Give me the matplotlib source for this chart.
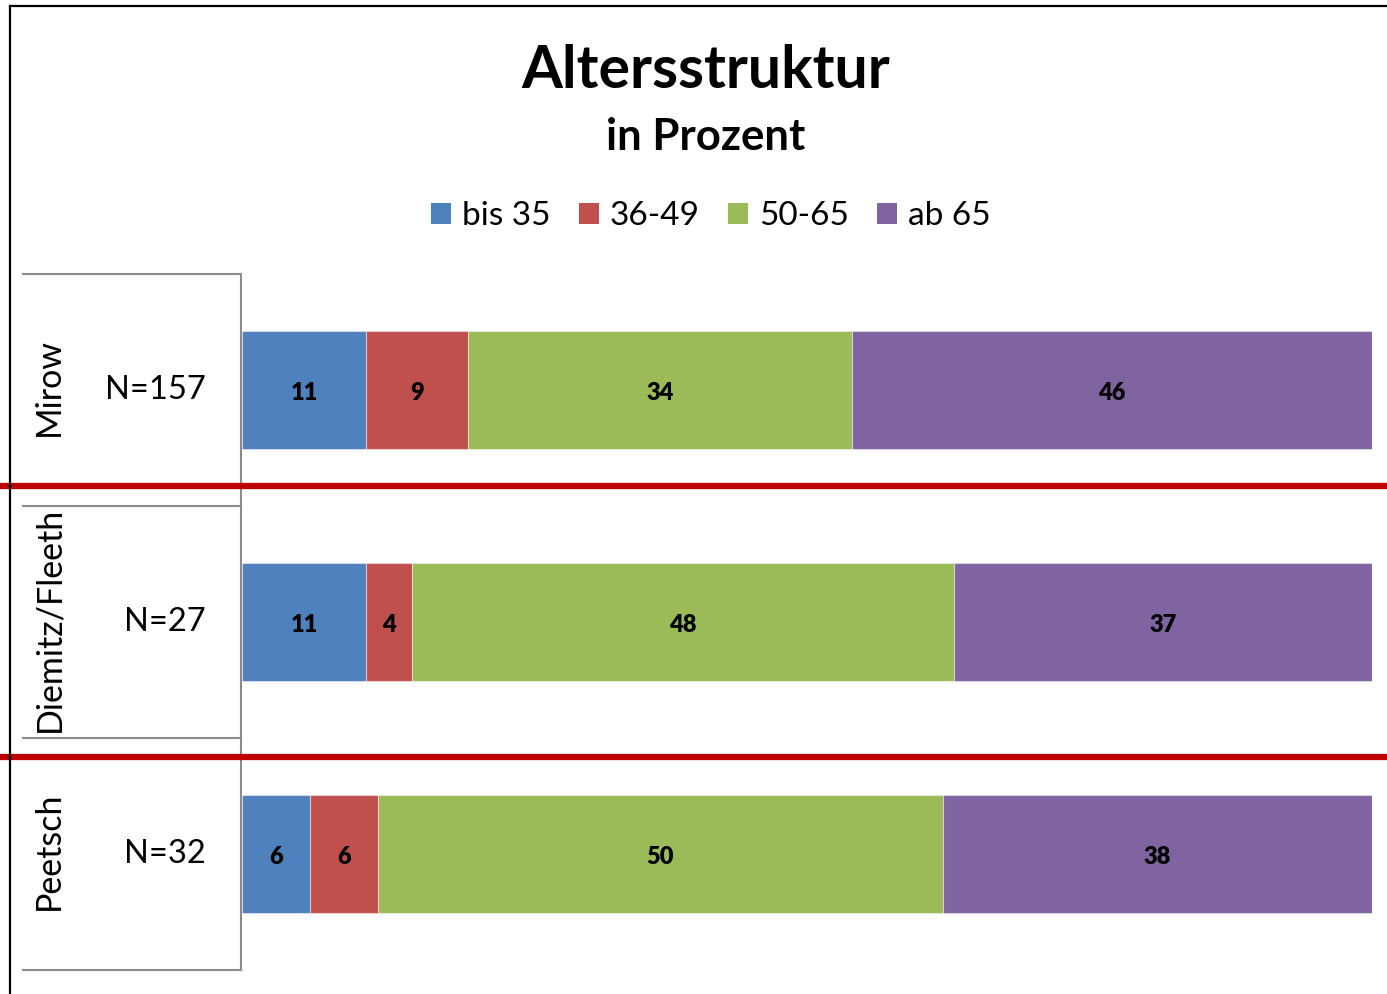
import matplotlib
matplotlib.use("Agg")
import matplotlib.pyplot as plt
from matplotlib.lines import Line2D
from matplotlib.patches import Patch
import numpy as np

# ---- data ----
groups = ["Mirow", "Diemitz/Fleeth", "Peetsch"]
sizes = ["N=157", "N=27", "N=32"]
series = ["bis 35", "36-49", "50-65", "ab 65"]
bis35 = [11, 11, 6]
s36_49 = [9, 4, 6]
s50_65 = [34, 48, 50]
ab65 = [46, 37, 38]
title = "Altersstruktur"
subtitle = "in Prozent"

colors = ["#4F81BD", "#C0504D", "#9BBB59", "#8064A2"]
FONT = "Lato"

W, H = 1387, 994
fig = plt.figure(figsize=(W / 100, H / 100), dpi=100)
plt.rcParams["font.family"] = [FONT, "DejaVu Sans"]


def fx(px):
    return px / W


def fy(py):
    return 1 - py / H


ax = fig.add_axes([fx(242), fy(970), fx(1372) - fx(242), fy(274) - fy(970)])
ypos = np.arange(len(groups))
left = np.zeros(len(groups))
for vals, col, name in zip([bis35, s36_49, s50_65, ab65], colors, series):
    bars = ax.barh(ypos, vals, left=left, height=0.51, color=col,
                   edgecolor=(1, 1, 1, 0.45), linewidth=0.8, label=name)
    texts = ax.bar_label(bars, labels=[str(v) for v in vals], label_type="center",
                         fontsize=17, fontweight="heavy", color="black")
    for t in texts:
        t.set_y(t.get_position()[1] - 2)  # small downward nudge (pixels offset)
    left += np.array(vals)

ax.set_xlim(0, 100)
ax.set_ylim(2.5, -0.5)
ax.axis("off")

# left label table lines
gray = "#8C8C8C"
for py in [274, 506, 738, 970]:
    fig.add_artist(Line2D([fx(23), fx(241)], [fy(py), fy(py)], color=gray, lw=1.5))
fig.add_artist(Line2D([fx(241), fx(241)], [fy(274), fy(970)], color=gray, lw=1.5))

# category labels
centers = [390, 622, 854]
for g, n, c in zip(groups, sizes, centers):
    fig.text(fx(49), fy(c - 3), g, rotation=90, ha="center", va="center",
             fontsize=24.5, color="black")
    fig.text(fx(206), fy(c), n, ha="right", va="center", fontsize=23.5, color="black")

# red separator lines
for py in [486, 757]:
    fig.add_artist(Line2D([0, 1], [fy(py), fy(py)], color="#C00000", lw=4.5))

# outer border (left & top)
fig.add_artist(Line2D([fx(10), fx(10)], [fy(6), 0], color="black", lw=1.6))
fig.add_artist(Line2D([fx(10), 1], [fy(6), fy(6)], color="black", lw=1.6))

# titles
fig.text(fx(706), fy(71), title, ha="center", va="center", fontsize=42.5,
         fontweight="bold")
fig.text(fx(706), fy(137), subtitle, ha="center", va="center", fontsize=31.5,
         fontweight="bold")

# legend
handles = [Patch(facecolor=c, edgecolor="none") for c in colors]
fig.legend(handles, series, loc="center", bbox_to_anchor=(fx(711), fy(216)),
           ncol=4, frameon=False, fontsize=24, handlelength=0.6,
           handleheight=0.6, handletextpad=0.33, columnspacing=0.85,
           borderaxespad=0)

fig.savefig("out.png", dpi=100, facecolor="white")
